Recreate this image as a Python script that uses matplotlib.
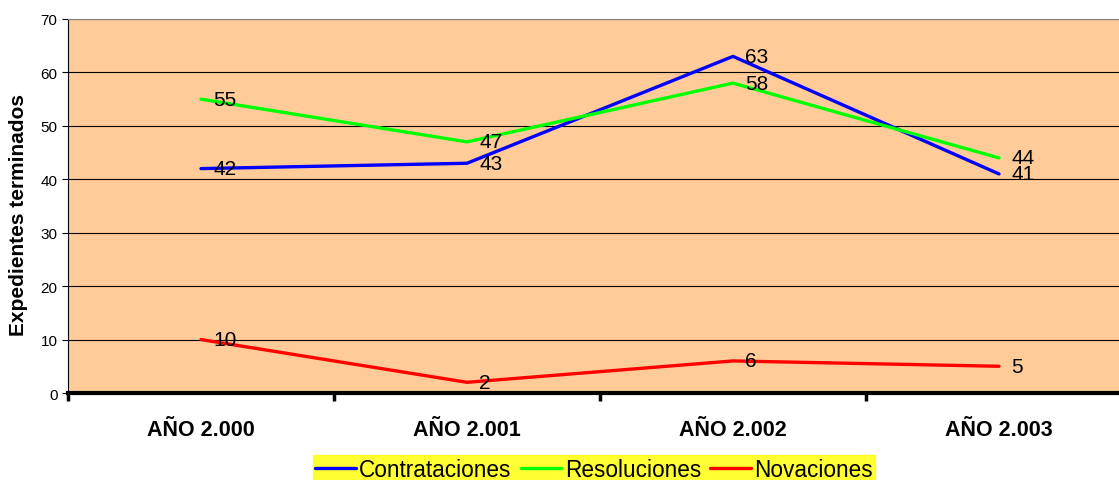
import matplotlib
matplotlib.use('Agg')
from matplotlib import pyplot as plt

years = ['AÑO 2.000', 'AÑO 2.001', 'AÑO 2.002', 'AÑO 2.003']
contrataciones = [42, 43, 63, 41]
resoluciones = [55, 47, 58, 44]
novaciones = [10, 2, 6, 5]

plt.rcParams['font.family'] = ['Liberation Sans', 'DejaVu Sans']

fig = plt.figure(figsize=(11.19, 4.81), dpi=100)
ax = fig.add_axes([68 / 1119, 1 - 394 / 481, 1064 / 1119, 374 / 481])
ax.set_facecolor('#FFCC99')

x = range(len(years))
series = [
    ('Contrataciones', contrataciones, '#0000FF'),
    ('Resoluciones', resoluciones, '#00FF00'),
    ('Novaciones', novaciones, '#FF0000'),
]
for name, vals, col in series:
    ax.plot(x, vals, color=col, lw=2.4, label=name, solid_capstyle='round', zorder=3)
    for xi, v in zip(x, vals):
        ax.annotate(str(v), (xi, v), xytext=(9, 0), textcoords='offset points',
                    va='center', ha='left', fontsize=15, zorder=4)

ax.set_xlim(-0.5, 3.5)
ax.set_ylim(0, 70)
ax.set_yticks(range(0, 71, 10))
ax.yaxis.grid(True, color='black', lw=0.8)
ax.set_axisbelow(True)

# category boundaries carry the ticks, names sit in between
ax.set_xticks([i - 0.5 for i in range(5)])
ax.set_xticklabels([])
ax.set_xticks(list(x), minor=True)
ax.set_xticklabels(years, minor=True, fontsize=15.5, fontweight='bold')
ax.tick_params(axis='x', which='major', length=6, width=2.5, direction='out')
ax.tick_params(axis='x', which='minor', length=0, pad=19)
ax.tick_params(axis='y', labelsize=11, length=4, width=0.8)

ax.spines['bottom'].set_linewidth(3)
ax.spines['left'].set_linewidth(0.8)
ax.spines['top'].set_color('#808080')
ax.spines['right'].set_visible(False)

ax.set_ylabel('Expedientes terminados', fontsize=15, fontweight='bold')
ax.yaxis.set_label_coords(-0.0376, 0.479)

leg = fig.legend(loc='lower center', bbox_to_anchor=(594 / 1119, -0.006), ncol=3,
                 fontsize=16.3, frameon=True, fancybox=False, borderpad=0.1,
                 handlelength=1.8, handletextpad=0.15, columnspacing=0.4,
                 borderaxespad=0)
leg.get_frame().set_facecolor('#FFFF00')
leg.get_frame().set_edgecolor('#FFFF00')

fig.savefig('out.png', dpi=100)
